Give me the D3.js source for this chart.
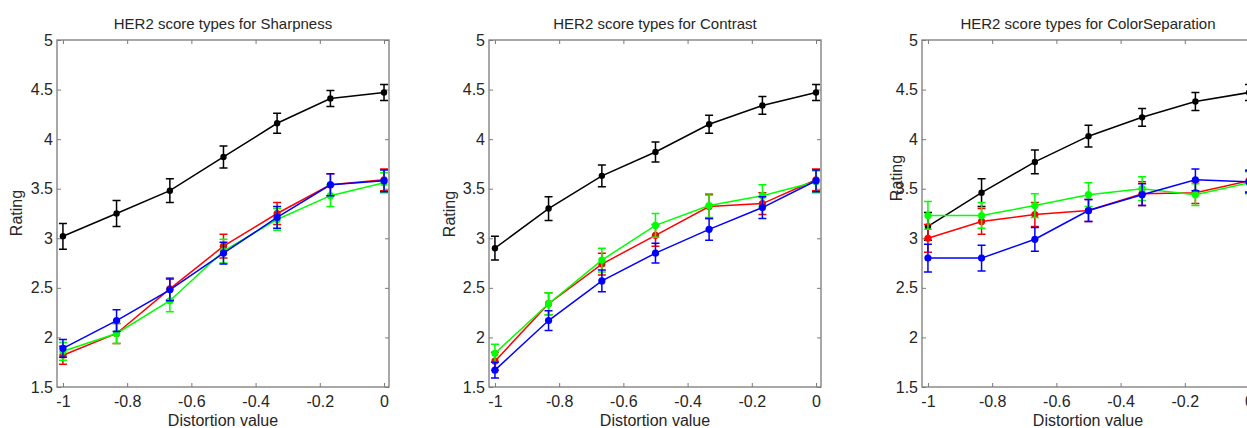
<!DOCTYPE html>
<html>
<head>
<meta charset="utf-8">
<script src="https://cdn.jsdelivr.net/npm/d3@7"></script>
<style>
    body { margin: 0; background: #fff; }
    text { font-family: "Liberation Sans", Arial, sans-serif; fill: #262626; }
</style>
</head>
<body>
<div id="chart"></div>
<script>

// distortion levels (x) and axis ticks
const distortion = [-1, -0.833, -0.667, -0.5, -0.333, -0.167, 0];
const xTicks = [-1, -0.8, -0.6, -0.4, -0.2, 0];
const yTicks = [1.5, 2, 2.5, 3, 3.5, 4, 4.5, 5];

const titles = ["HER2 score types for Sharpness", "HER2 score types for Contrast", "HER2 score types for ColorSeparation"];
const xLabel = "Distortion value";
const yLabel = "Rating";

// mean ratings per series: black, red, green, blue
const sharpnessMeans = [
    [3.02, 3.25, 3.48, 3.82, 4.16, 4.41, 4.47],
    [1.82, 2.04, 2.49, 2.92, 3.25, 3.54, 3.59],
    [1.86, 2.04, 2.37, 2.87, 3.19, 3.43, 3.56],
    [1.89, 2.17, 2.48, 2.85, 3.21, 3.54, 3.58]
];
const sharpnessErrors = [
    [0.13, 0.13, 0.12, 0.11, 0.10, 0.08, 0.08],
    [0.09, 0.10, 0.11, 0.12, 0.11, 0.11, 0.11],
    [0.09, 0.10, 0.11, 0.12, 0.11, 0.11, 0.10],
    [0.09, 0.11, 0.11, 0.11, 0.11, 0.11, 0.11]
];

const contrastMeans = [
    [2.90, 3.30, 3.63, 3.87, 4.15, 4.34, 4.47],
    [1.76, 2.34, 2.74, 3.03, 3.32, 3.35, 3.59],
    [1.84, 2.34, 2.78, 3.13, 3.33, 3.43, 3.57],
    [1.67, 2.17, 2.57, 2.85, 3.09, 3.31, 3.58]
];
const contrastErrors = [
    [0.12, 0.12, 0.11, 0.10, 0.09, 0.09, 0.08],
    [0.09, 0.11, 0.11, 0.11, 0.12, 0.11, 0.11],
    [0.09, 0.11, 0.12, 0.12, 0.12, 0.11, 0.11],
    [0.08, 0.10, 0.11, 0.10, 0.11, 0.11, 0.11]
];

const colorSepMeans = [
    [3.12, 3.46, 3.77, 4.03, 4.22, 4.38, 4.47],
    [3.00, 3.17, 3.24, 3.28, 3.45, 3.46, 3.58],
    [3.23, 3.23, 3.33, 3.44, 3.50, 3.44, 3.56],
    [2.80, 2.80, 2.99, 3.28, 3.44, 3.59, 3.57]
];
const colorSepErrors = [
    [0.14, 0.14, 0.12, 0.11, 0.09, 0.09, 0.08],
    [0.14, 0.13, 0.12, 0.11, 0.12, 0.11, 0.11],
    [0.14, 0.13, 0.12, 0.12, 0.12, 0.11, 0.11],
    [0.14, 0.13, 0.12, 0.11, 0.11, 0.11, 0.11]
];

const panelMeans = [sharpnessMeans, contrastMeans, colorSepMeans];
const panelErrors = [sharpnessErrors, contrastErrors, colorSepErrors];

// styling / layout
const colors = ["#000000", "#ff0000", "#00ff00", "#0000ff"];
const boxLefts = [57, 489, 922];
const ratingPos = [[-35, 213], [-34, 214], [-20, 178]];
const boxTop = 40, boxBottom = 387, boxWidth = 332;

const svg = d3.select("#chart").append("svg")
    .attr("width", 1247)
    .attr("height", 428);

panelMeans.forEach((means, p) => {
    let g = svg.append("g")
        .attr("transform", `translate(${boxLefts[p]}, 0)`);

    let x = d3.scaleLinear()
        .domain([-1.0185, 0.0155])
        .range([0, boxWidth]);
    let y = d3.scaleLinear()
        .domain([1.5, 5])
        .range([boxBottom, boxTop]);

    // axes with inward ticks
    let bottom = g.append("g")
        .attr("transform", `translate(0, ${boxBottom})`)
        .call(d3.axisBottom(x).tickValues(xTicks).tickSize(-4).tickPadding(9).tickFormat(d => String(d)));
    let top = g.append("g")
        .attr("transform", `translate(0, ${boxTop})`)
        .call(d3.axisTop(x).tickValues(xTicks).tickSize(-4).tickFormat(""));
    let left = g.append("g")
        .call(d3.axisLeft(y).tickValues(yTicks).tickSize(-4).tickPadding(4).tickFormat(d => String(d)));
    let right = g.append("g")
        .attr("transform", `translate(${boxWidth}, 0)`)
        .call(d3.axisRight(y).tickValues(yTicks).tickSize(-4).tickFormat(""));

    [bottom, top, left, right].forEach(a => {
        a.select(".domain").remove();
        a.selectAll("line").attr("stroke", "#7a7a7a");
        a.selectAll("text").attr("font-size", 16).attr("fill", "#262626")
            .attr("font-family", "Liberation Sans, Arial, sans-serif");
    });

    g.append("rect")
        .attr("x", 0)
        .attr("y", boxTop)
        .attr("width", boxWidth)
        .attr("height", boxBottom - boxTop)
        .attr("fill", "none")
        .attr("stroke", "#7a7a7a")
        .attr("stroke-width", 1.3);

    // title and labels
    g.append("text")
        .attr("x", boxWidth / 2)
        .attr("y", 29)
        .attr("text-anchor", "middle")
        .attr("font-size", 15)
        .text(titles[p]);
    g.append("text")
        .attr("x", boxWidth / 2)
        .attr("y", 426)
        .attr("text-anchor", "middle")
        .attr("font-size", 16)
        .text(xLabel);
    g.append("text")
        .attr("transform", `translate(${ratingPos[p][0]}, ${ratingPos[p][1]}) rotate(-90)`)
        .attr("text-anchor", "middle")
        .attr("font-size", 16)
        .text(yLabel);

    // series: line, error bars, markers
    let line = d3.line()
        .x((d, i) => x(distortion[i]))
        .y(d => y(d));

    means.forEach((vals, s) => {
        let errs = panelErrors[p][s];
        let sg = g.append("g");

        sg.append("path")
            .datum(vals)
            .attr("d", line)
            .attr("fill", "none")
            .attr("stroke", colors[s])
            .attr("stroke-width", 1.5);

        let pts = vals.map((v, i) => ({x: distortion[i], v: v, e: errs[i]}));

        sg.selectAll(".ebar")
            .data(pts)
            .enter().append("path")
            .attr("class", "ebar")
            .attr("d", d => {
                let cx = x(d.x), y1 = y(d.v - d.e), y2 = y(d.v + d.e);
                return `M${cx},${y1}V${y2}M${cx - 4},${y1}H${cx + 4}M${cx - 4},${y2}H${cx + 4}`;
            })
            .attr("fill", "none")
            .attr("stroke", colors[s])
            .attr("stroke-width", 1.5);

        sg.selectAll(".dot")
            .data(pts)
            .enter().append("circle")
            .attr("class", "dot")
            .attr("cx", d => x(d.x))
            .attr("cy", d => y(d.v))
            .attr("r", s == 0 ? 3.2 : 3.6)
            .attr("fill", colors[s]);
    });
});
</script>
</body>
</html>
